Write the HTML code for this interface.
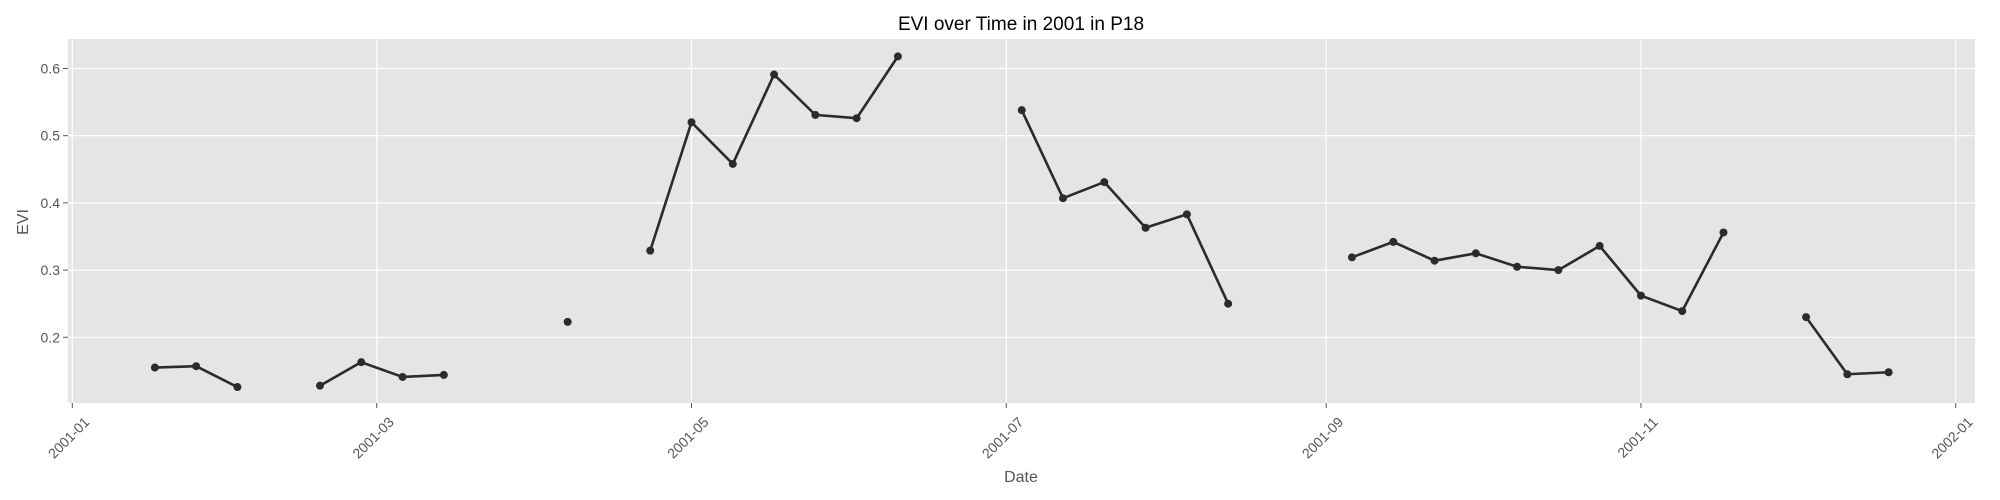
<!DOCTYPE html>
<html><head><meta charset="utf-8"><style>
body{margin:0;background:#fff;}
svg{display:block;font-family:"Liberation Sans","DejaVu Sans",sans-serif;}
</style></head><body>
<svg id="chart" width="2000" height="500" viewBox="0 0 2000 500">
<rect x="0" y="0" width="2000" height="500" fill="#fff"/>
<text x="1021" y="30" font-size="19" text-anchor="middle" fill="#000">EVI over Time in 2001 in P18</text>
<rect x="68" y="39" width="1907" height="364" fill="#e5e5e5"/>
<g id="grid"></g>
<g id="axes"></g>
<g id="series"></g>
<text x="1021" y="482" font-size="16" text-anchor="middle" fill="#555">Date</text>
<text x="0" y="0" font-size="16" text-anchor="middle" fill="#555" transform="translate(28,222) rotate(-90)">EVI</text>
</svg>
<script>
const dayOfYear = [16,24,32,40,48,56,64,72,80,88,96,104,112,120,128,136,144,152,160,168,176,184,192,200,208,216,224,232,240,248,256,264,272,280,288,296,304,312,320,328,336,344,352];
const eviValues = [0.155,0.157,0.126,null,0.128,0.163,0.141,0.144,null,null,0.223,null,0.329,0.520,0.458,0.591,0.531,0.526,0.618,null,null,0.538,0.407,0.431,0.363,0.383,0.250,null,null,0.319,0.342,0.314,0.325,0.305,0.300,0.336,0.262,0.239,0.356,null,0.230,0.145,0.148];
const yTicks = [0.2,0.3,0.4,0.5,0.6];
const xTickDays = [0,59,120,181,243,304,365];
const xTickLabels = ["2001-01","2001-03","2001-05","2001-07","2001-09","2001-11","2002-01"];

const NS="http://www.w3.org/2000/svg";
const x = d => 72.3 + d*5.16;
const y = v => 337.3 - (v-0.2)*672;
const grid=document.getElementById('grid'), axes=document.getElementById('axes'), series=document.getElementById('series');
function mk(tag, attrs, parent){const e=document.createElementNS(NS,tag);for(const k in attrs)e.setAttribute(k,attrs[k]);parent.appendChild(e);return e;}

yTicks.forEach(v=>{
  const g=mk('line',{x1:68,x2:1975,y1:y(v),y2:y(v),stroke:'#fff','stroke-width':1.2},grid);
  
  
  mk('line',{x1:63,x2:68,y1:y(v),y2:y(v),stroke:'#555','stroke-width':1},axes);
  const t=mk('text',{x:60,y:y(v)+5,'font-size':14,'text-anchor':'end',fill:'#555'},axes);
  t.textContent=v.toFixed(1);
  
  
});
xTickDays.forEach((d,i)=>{
  const g=mk('line',{x1:x(d),x2:x(d),y1:39,y2:403,stroke:'#fff','stroke-width':1.2},grid);
  
  
  mk('line',{x1:x(d),x2:x(d),y1:403,y2:408,stroke:'#555','stroke-width':1},axes);
  const t=mk('text',{'font-size':14,'text-anchor':'end',fill:'#555',transform:`translate(${x(d)+18},${423}) rotate(-45)`},axes);
  t.textContent=xTickLabels[i];
  
  
});
let seg=[];
function flush(){
  if(seg.length>1){
    const p=mk('polyline',{points:seg.map(s=>s.join(',')).join(' '),fill:'none',stroke:'#2b2b2b','stroke-width':2.6,'stroke-linejoin':'round'},series);
    
    
  }
  seg=[];
}
dayOfYear.forEach((d,i)=>{
  const v=eviValues[i];
  if(v===null){flush();return;}
  seg.push([x(d),y(v)]);
});
flush();
dayOfYear.forEach((d,i)=>{
  const v=eviValues[i];
  if(v===null)return;
  const c=mk('circle',{cx:x(d),cy:y(v),r:4,fill:'#2b2b2b'},series);
  
  
});
</script>
</body></html>
